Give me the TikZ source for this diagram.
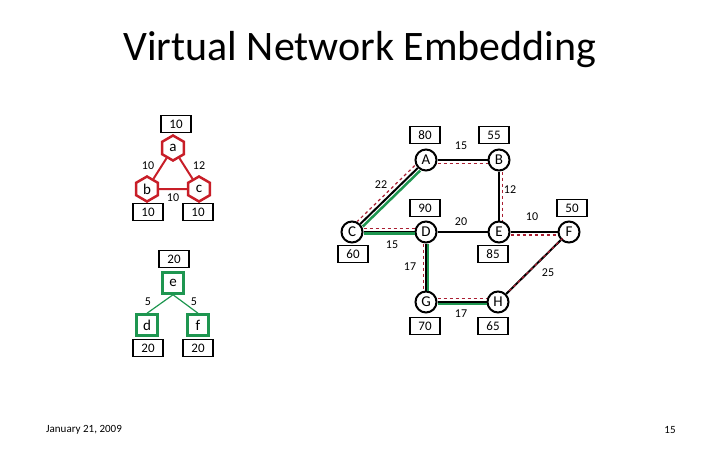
\documentclass[tikz,border=0pt]{standalone}
\usepackage{fontspec}
\setmainfont{Carlito}
\usetikzlibrary{shapes.geometric}
\definecolor{rd}{RGB}{200,30,40}
\definecolor{dr}{RGB}{170,30,50}
\definecolor{gr}{RGB}{30,150,80}
\begin{document}
\begin{tikzpicture}[x=1pt,y=-1pt,
 sub/.style={circle,draw,line width=2pt,minimum size=21pt,inner sep=0pt,font=\fontsize{15}{15}\selectfont},
 wbox/.style={draw,line width=1.5pt,minimum width=30pt,minimum height=17pt,inner sep=0pt,font=\fontsize{13}{13}\selectfont},
 hex/.style={regular polygon,regular polygon sides=6,shape border rotate=90,draw=rd,line width=2.5pt,minimum size=25pt,inner sep=0pt,font=\fontsize{15}{15}\selectfont},
 sq/.style={draw=gr,line width=2.5pt,minimum size=21pt,inner sep=0pt,font=\fontsize{15}{15}\selectfont},
 lab/.style={font=\fontsize{12}{12}\selectfont},
 blk/.style={line width=2pt},
 rdash/.style={dr,dashed,line width=1.2pt},
 gline/.style={gr,line width=2.5pt}]
\useasboundingbox (0,0) rectangle (720,450);
\node[font=\fontsize{42}{42}\selectfont] (title) at (360,50) {Virtual Network Embedding};
\node[font=\fontsize{11}{11}\selectfont] (date) at (84,430) {January 21, 2009};
\node[font=\fontsize{11}{11}\selectfont] (pg) at (670,430) {15};
% substrate
\node[sub] (A) at (426,160) {A};
\node[sub] (B) at (499,160) {B};
\node[sub] (C) at (352,232) {C};
\node[sub] (D) at (426,232) {D};
\node[sub] (E) at (499,232) {E};
\node[sub] (F) at (569,232) {F};
\node[sub] (G) at (426,302) {G};
\node[sub] (H) at (498,302) {H};
\foreach \n/\x/\y/\t in {wA/425/135/80,wB/494/135/55,wD/425/208/90,wC/353/254/60,wE/493/254/85,wF/572/208/50,wG/425/326/70,wH/493/326/65}
 \node[wbox] (\n) at (\x,\y) {\t};
\foreach \a/\b in {A/B,B/E,A/C,C/D,D/E,E/F,D/G,G/H,H/F}
 \draw[blk] (\a) -- (\b);
% green embedding
\draw[gline,transform canvas={shift={(2.5pt,-2.5pt)}}] (C) -- (A);
\draw[gline,transform canvas={shift={(0pt,-1.5pt)}}] (C) -- (D);
\draw[gline,transform canvas={shift={(2pt,0pt)}}] (D) -- (G);
\draw[gline,transform canvas={shift={(0pt,-2pt)}}] (G) -- (H);
% red dashed embedding
\draw[rdash,transform canvas={shift={(0pt,-3.5pt)}}] (A) -- (B);
\draw[rdash,transform canvas={shift={(3.5pt,0pt)}}] (B) -- (E);
\draw[rdash,transform canvas={shift={(-3pt,2.5pt)}}] (A) -- (C);
\draw[rdash,transform canvas={shift={(0pt,3.5pt)}}] (C) -- (D);
\draw[rdash,transform canvas={shift={(-2.5pt,0pt)}}] (D) -- (G);
\draw[rdash,transform canvas={shift={(0pt,3.5pt)}}] (G) -- (H);
\draw[rdash,transform canvas={shift={(3pt,3pt)}}] (H) -- (F);
\draw[rdash,transform canvas={shift={(0pt,-3pt)}}] (E) -- (F);
\foreach \n/\x/\y/\t in {l1/461/146/15,l2/381/185/22,l3/510/190/12,l4/461/222/20,l5/532/217/10,l6/392/245/15,l7/410/267/17,l8/548/273/25,l9/461/314/17}
 \node[lab] (\n) at (\x,\y) {\t};
% virtual network 1
\node[hex] (a) at (173,148) {a};
\node[hex] (b) at (147,189) {b};
\node[hex] (c) at (199,189) {c};
\draw[rd,line width=2pt] (a) -- (b) (b) -- (c) (c) -- (a);
\node[wbox] (wa) at (176,124) {10};
\node[wbox] (wb) at (148,212) {10};
\node[wbox] (wc) at (198,212) {10};
\node[lab] (lab1) at (148,166) {10};
\node[lab] (lac) at (199,166) {12};
\node[lab] (lbc) at (173,198) {10};
% virtual network 2
\node[sq] (e) at (173,283) {e};
\node[sq] (d) at (147,325) {d};
\node[sq] (f) at (198,325) {f};
\draw[gr,line width=1.2pt] (e.south) -- (d.north) (e.south) -- (f.north);
\node[wbox] (we) at (174,259) {20};
\node[wbox] (wd) at (148,348) {20};
\node[wbox] (wf) at (198,348) {20};
\node[lab] (led) at (148,302) {5};
\node[lab] (lef) at (194,302) {5};
\end{tikzpicture}
\end{document}
